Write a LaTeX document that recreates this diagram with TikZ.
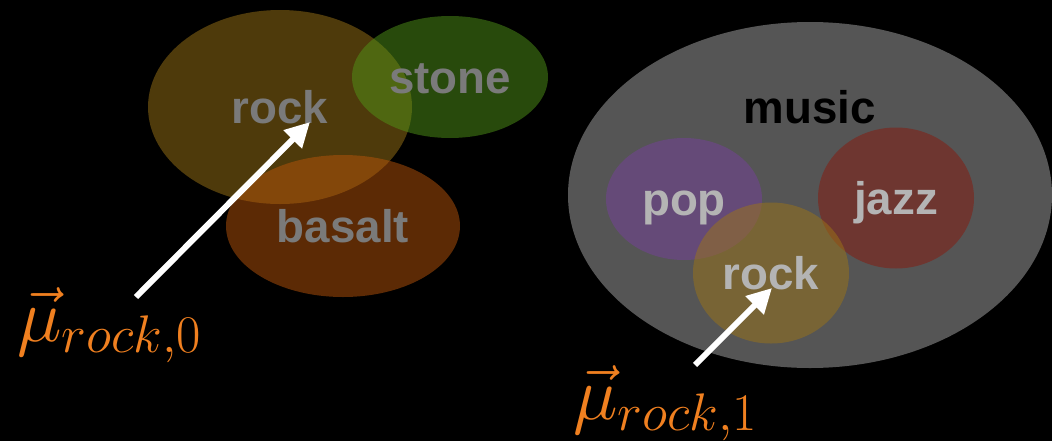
\RequirePackage{fix-cm}
\documentclass[tikz,border=0pt]{standalone}
\usepackage{amsmath}
\usepackage{fontspec}
\setmainfont{Liberation Sans}
\usetikzlibrary{shapes.geometric,arrows.meta}
\definecolor{rockcol}{HTML}{9C7416}
\definecolor{basaltcol}{HTML}{B8540A}
\definecolor{stonecol}{HTML}{509418}
\definecolor{popcol}{HTML}{76409C}
\definecolor{jazzcol}{HTML}{88180C}
\definecolor{musiccol}{HTML}{555555}
\definecolor{mucol}{HTML}{F08020}
\definecolor{dimtext}{HTML}{7A7A7A}
\definecolor{lighttext}{HTML}{B4B4B4}
\begin{document}
\begin{tikzpicture}[
  word/.style={inner sep=0pt, text height=19pt, text depth=0pt,
    font=\fontsize{26}{30}\selectfont\bfseries},
  blob/.style={word, ellipse, fill opacity=0.5, text opacity=1},
  mulabel/.style={text=mucol, inner sep=0pt, anchor=base west,
    font=\fontsize{43}{52}\selectfont},
  pointer/.style={white, line width=3.4pt, -{Triangle[length=14pt,width=14pt]}}]
  \fill[black] (0,0) rectangle (21.04,8.82);
  \useasboundingbox (0,0) rectangle (21.04,8.82);
  % left group
  \node[blob, fill=rockcol, text=dimtext, minimum width=5.28cm, minimum height=3.88cm] (rock0) at (5.6,6.68) {rock};
  \node[blob, fill=stonecol, text=dimtext, minimum width=3.92cm, minimum height=2.44cm] (stone) at (9.0,7.28) {stone};
  \node[blob, fill=basaltcol, text=dimtext, minimum width=4.68cm, minimum height=2.84cm] (basalt) at (6.86,4.30) {basalt};
  \node[mulabel] (mu0) at (0.34,1.99) {$\vec{\mu}_{rock,0}$};
  \coordinate (tail0) at (2.72,2.88);
  \coordinate (tip0) at (6.2,6.38);
  \draw[pointer] (tail0) -- (tip0);
  % right group
  \node[ellipse, fill=musiccol, minimum width=9.68cm, minimum height=6.92cm] (music) at (16.2,4.92) {};
  \node[word, text=black] (musiclbl) at (16.2,6.68) {music};
  \node[blob, fill=popcol, text=lighttext, minimum width=3.12cm, minimum height=2.44cm] (pop) at (13.68,4.84) {pop};
  \node[blob, fill=jazzcol, text=lighttext, minimum width=3.12cm, minimum height=2.82cm] (jazz) at (17.92,4.86) {jazz};
  \node[blob, fill=rockcol, text=lighttext, minimum width=3.12cm, minimum height=2.82cm] (rock1) at (15.42,3.36) {rock};
  \node[mulabel] (mu1) at (11.46,0.44) {$\vec{\mu}_{rock,1}$};
  \coordinate (tail1) at (13.9,1.52);
  \coordinate (tip1) at (15.44,3.06);
  \draw[pointer] (tail1) -- (tip1);
\end{tikzpicture}
\end{document}
